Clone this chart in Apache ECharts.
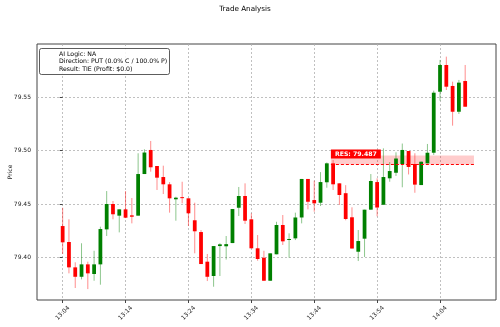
<!DOCTYPE html>
<html><head><meta charset="utf-8">
<script src="https://cdn.jsdelivr.net/npm/echarts@6/dist/echarts.min.js"></script>
<style>html,body{margin:0;padding:0;background:#fff}#c{width:500px;height:327px}</style>
</head><body><div id="c"></div>
<script>
const times = ["13:04","13:05","13:06","13:07","13:08","13:09","13:10","13:11","13:12","13:13",
"13:14","13:15","13:16","13:17","13:18","13:19","13:20","13:21","13:22","13:23",
"13:24","13:25","13:26","13:27","13:28","13:29","13:30","13:31","13:32","13:33",
"13:34","13:35","13:36","13:37","13:38","13:39","13:40","13:41","13:42","13:43",
"13:44","13:45","13:46","13:47","13:48","13:49","13:50","13:51","13:52","13:53",
"13:54","13:55","13:56","13:57","13:58","13:59","14:00","14:01","14:02","14:03",
"14:04","14:05","14:06","14:07","14:08"];
const opens = [79.4296,79.4147,79.3910,79.3822,79.3938,79.3848,79.3938,79.4265,79.4502,79.4393,
79.4452,79.4396,79.4393,79.4782,79.5007,79.4857,79.4754,79.4686,79.4546,79.4566,
79.4555,79.4350,79.4240,79.3963,79.3829,79.4109,79.4107,79.4137,79.4467,79.4577,
79.4359,79.4088,79.4000,79.3785,79.4032,79.4306,79.4166,79.4181,79.4376,79.4736,
79.4539,79.4514,79.4705,79.4882,79.4695,79.4603,79.4378,79.4056,79.4178,79.4449,
79.4707,79.4495,79.4742,79.4794,79.4876,79.4997,79.4876,79.4679,79.4882,79.4981,
79.5551,79.5801,79.5605,79.5364,79.5651];
const closes = [79.4144,79.3910,79.3822,79.3938,79.3854,79.3938,79.4268,79.4502,79.4406,79.4452,
79.4374,79.4383,79.4782,79.4983,79.4845,79.4748,79.4686,79.4555,79.4561,79.4562,
79.4415,79.4247,79.3941,79.3822,79.4109,79.4125,79.4127,79.4455,79.4577,79.4346,
79.4088,79.3988,79.3785,79.4041,79.4306,79.4153,79.4175,79.4376,79.4736,79.4523,
79.4508,79.4707,79.4882,79.4686,79.4586,79.4362,79.4086,79.4156,79.4449,79.4717,
79.4469,79.4754,79.4810,79.4927,79.5007,79.4848,79.4683,79.4897,79.4981,79.5542,
79.5801,79.5598,79.5364,79.5636,79.5411];
const lows = [79.4035,79.3854,79.3717,79.3798,79.3707,79.3785,79.3748,79.4203,79.4359,79.4237,
79.4370,79.4321,79.4393,79.4782,79.4804,79.4633,79.4595,79.4421,79.4346,79.4508,
79.4296,79.4041,79.3941,79.3782,79.3729,79.3829,79.3983,79.4137,79.4390,79.4315,
79.4088,79.3972,79.3785,79.3785,79.4032,79.4119,79.4000,79.4165,79.4321,79.4452,
79.4430,79.4483,79.4654,79.4633,79.4493,79.4350,79.4086,79.3969,79.4007,79.4449,
79.4387,79.4495,79.4710,79.4764,79.4658,79.4778,79.4607,79.4679,79.4882,79.4960,
79.5467,79.5567,79.5234,79.5343,79.5411];
const highs = [79.4467,79.4359,79.3957,79.4135,79.3963,79.4065,79.4290,79.4623,79.4530,79.4452,
79.4623,79.4558,79.4976,79.5013,79.5091,79.4857,79.4860,79.4707,79.4570,79.4710,
79.4555,79.4514,79.4258,79.4035,79.4109,79.4135,79.4203,79.4455,79.4661,79.4695,
79.4415,79.4212,79.4065,79.4041,79.4336,79.4399,79.4228,79.4421,79.4736,79.4736,
79.4720,79.4800,79.4890,79.4913,79.4695,79.4678,79.4471,79.4259,79.4449,79.4782,
79.4742,79.5022,79.4894,79.4985,79.5067,79.4997,79.4976,79.4900,79.5063,79.5561,
79.5848,79.5879,79.5645,79.5661,79.5801];
const yTicks = [79.40, 79.45, 79.50, 79.55];
const xTickLabels = ["13:04","13:14","13:24","13:34","13:44","13:54","14:04"];
const resLevel = 79.487;
const resLabel = "RES: 79.487";
const resBand = [79.487, 79.4955];
const resStart = 42.65, resEnd = 65.4;
const infoLines = ["AI Logic: NA", "Direction: PUT (0.0% C / 100.0% P)", "Result: TIE (Profit: $0.0)"];
const titleText = "Trade Analysis";

const xTickIdx = xTickLabels.map(t => times.indexOf(t));
const candles = times.map((t, i) => [i, opens[i], closes[i], lows[i], highs[i]]);
const FONT = 'DejaVu Sans';

function renderItem(params, api) {
  const x = api.value(0), o = api.value(1), c = api.value(2), l = api.value(3), h = api.value(4);
  const pO = api.coord([x, o]), pC = api.coord([x, c]), pL = api.coord([x, l]), pH = api.coord([x, h]);
  const w = api.size([1, 0])[0] * 0.6;
  const col = c >= o ? '#008000' : '#ff0000';
  const top = Math.min(pO[1], pC[1]);
  let hg = Math.abs(pO[1] - pC[1]); if (hg < 1) hg = 1;
  return {type: 'group', children: [
    {type: 'line', shape: {x1: pH[0], y1: pH[1], x2: pL[0], y2: pL[1]}, style: {stroke: col, opacity: 0.45, lineWidth: 1}},
    {type: 'rect', shape: {x: pO[0] - w / 2, y: top, width: w, height: hg}, style: {fill: col}}
  ]};
}

const chart = echarts.init(document.getElementById('c'), null, {renderer: 'canvas'});
chart.setOption({
  animation: false,
  title: [
    {text: titleText, left: 240, top: 1, textAlign: 'center',
     textStyle: {fontFamily: FONT, fontSize: 7.2, fontWeight: 'normal', color: '#000'}},
    {text: infoLines.join('\n'), left: 39, top: 48, padding: [3, 3, 2, 20],
     backgroundColor: 'rgba(255,255,255,0.85)', borderColor: '#333', borderWidth: 0.8, borderRadius: 2,
     textStyle: {fontFamily: FONT, fontSize: 6.2, lineHeight: 7.2, fontWeight: 'normal', color: '#000'}}
  ],
  grid: {left: 37, right: 4, top: 44, bottom: 27, show: true, borderColor: '#444', borderWidth: 1,
    backgroundColor: 'transparent', containLabel: false, outerBoundsMode: 'none'},
  xAxis: {
    type: 'value', min: -4.08, max: 68.9,
    axisLine: {show: false},
    axisTick: {show: true, length: 3, customValues: xTickIdx, lineStyle: {color: '#444'}},
    splitLine: {show: true, lineStyle: {color: '#b0b0b0', type: [2, 2], width: 0.8}},
    axisLabel: {customValues: xTickIdx, rotate: 45, align: 'center', verticalAlign: 'middle', margin: 13,
      fontFamily: FONT, fontSize: 6, color: '#222',
      formatter: v => times[Math.round(v)] || ''}
  },
  yAxis: {
    type: 'value', min: 79.3605, max: 79.5997, name: 'Price', nameLocation: 'middle', nameGap: 24, nameRotate: 90,
    nameMoveOverlap: false,
    nameTextStyle: {fontFamily: FONT, fontSize: 6, color: '#222'},
    axisLine: {show: false},
    axisTick: {show: true, length: 3, customValues: yTicks, lineStyle: {color: '#444'}},
    splitLine: {show: true, lineStyle: {color: '#b0b0b0', type: [2, 2], width: 0.8}},
    axisLabel: {customValues: yTicks, margin: 6, fontFamily: FONT, fontSize: 6, color: '#222',
      formatter: v => v.toFixed(2)}
  },
  series: [
    {type: 'custom', renderItem: renderItem, data: candles, encode: {x: 0, y: [1, 2, 3, 4]}, z: 3},
    {type: 'line', data: [], z: 2,
     markArea: {silent: true, itemStyle: {color: 'rgba(255,0,0,0.2)'},
       data: [[{coord: [resStart, resBand[0]]}, {coord: [resEnd, resBand[1]]}]]},
     markLine: {silent: true, symbol: 'none', lineStyle: {color: '#ff0000', type: [3, 2], width: 1},
       label: {show: false},
       data: [[{coord: [resStart, resLevel]}, {coord: [resEnd, resLevel]}]]},
     markPoint: {silent: true, symbol: 'rect', symbolSize: 0,
       data: [{coord: [resStart, resLevel]}],
       label: {show: true, formatter: resLabel, position: [0, -6], align: 'left', verticalAlign: 'bottom',
         backgroundColor: '#ff0000', color: '#fff', fontWeight: 'bold', fontFamily: FONT, fontSize: 6.2,
         padding: [2, 4, 1, 4]}}
    }
  ]
});
</script></body></html>
